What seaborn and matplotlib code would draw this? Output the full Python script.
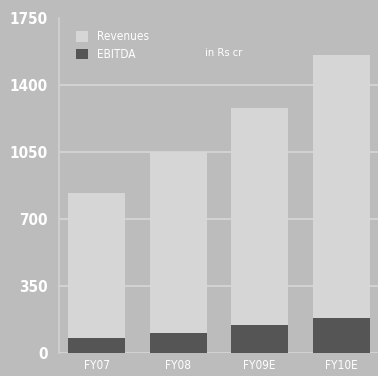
import matplotlib
matplotlib.use("Agg")
import matplotlib.pyplot as plt
import seaborn as sns
from matplotlib.patches import Patch

years = ["FY07", "FY08", "FY09E", "FY10E"]
revenues = [836, 1050, 1282, 1556]
ebitda = [80, 107, 146, 182]
yticks = [0, 350, 700, 1050, 1400, 1750]

sns.set_style("white")
plt.rcParams["font.family"] = ["DejaVu Sans"]
plt.rcParams["font.stretch"] = "condensed"

bg = "#bcbcbc"
fig = plt.figure(figsize=(3.78, 3.76), dpi=100, facecolor=bg)
ax = fig.add_axes([0.156, 0.061, 0.844, 0.891], facecolor=bg)

sns.barplot(x=years, y=revenues, color="#d6d6d6", width=0.7, ax=ax,
            saturation=1, linewidth=0, edgecolor="none", zorder=3)
sns.barplot(x=years, y=ebitda, color="#555555", width=0.7, ax=ax,
            saturation=1, linewidth=0, edgecolor="none", zorder=4)

ax.set_xlim(-0.46, 3.45)
ax.set_ylim(0, 1750)
ax.set_yticks(yticks)
ax.set_yticklabels([str(v) for v in yticks], color="white", fontsize=11,
                   fontweight="bold", fontstretch="condensed")
for lbl in ax.get_xticklabels():
    lbl.set_fontstretch("condensed")
ax.tick_params(axis="y", length=5, color="#d8d8d8", width=1, pad=3)
ax.tick_params(axis="x", length=0, colors="white", labelsize=8.5, pad=4)
ax.grid(axis="y", color="#d2d2d2", linewidth=1.5, zorder=0)
ax.yaxis.get_gridlines()[-1].set_visible(False)
ax.set_axisbelow(True)
for s in ["top", "right", "bottom"]:
    ax.spines[s].set_visible(False)
ax.spines["left"].set_color("#d2d2d2")
ax.spines["left"].set_linewidth(1.2)
ax.set_xlabel("")
ax.set_ylabel("")

handles = [Patch(facecolor="#d6d6d6", edgecolor="none", label="Revenues"),
           Patch(facecolor="#555555", edgecolor="none", label="EBITDA")]
leg = ax.legend(handles=handles, loc="upper left", bbox_to_anchor=(0.02, 0.995),
                frameon=False, fontsize=8.5, labelcolor="white",
                handlelength=1.0, handleheight=1.0, handletextpad=0.8,
                labelspacing=0.4)
ax.text(0.458, 0.895, "in Rs cr", transform=ax.transAxes, color="white",
        fontsize=8, ha="left", va="center", fontstretch="condensed")

fig.savefig("out.png", dpi=100, facecolor=bg)
